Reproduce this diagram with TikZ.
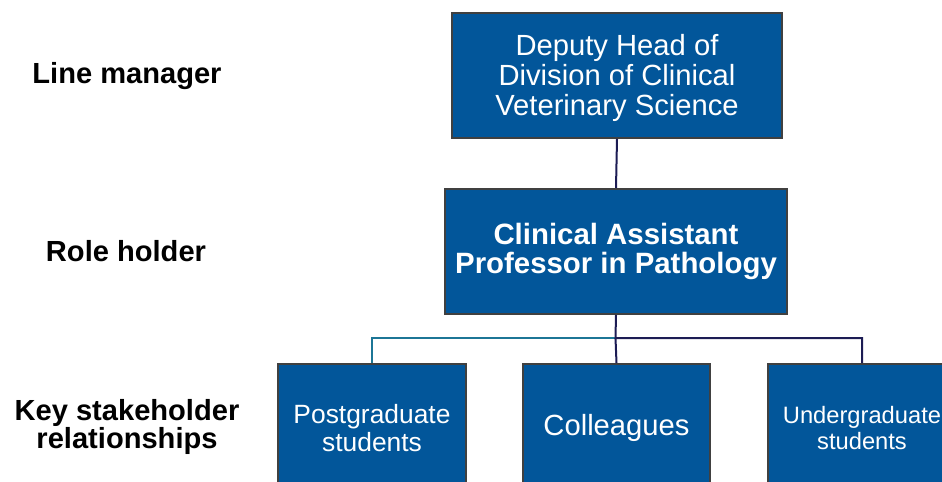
\documentclass[tikz,border=0pt]{standalone}
\usepackage{fontspec}
\setmainfont{Liberation Sans}
\definecolor{boxblue}{RGB}{2,86,154}
\definecolor{boxedge}{RGB}{64,64,64}
\definecolor{navyline}{RGB}{28,28,84}
\definecolor{tealline}{RGB}{28,118,150}
\begin{document}
\begin{tikzpicture}[x=1bp,y=-1bp,
  orgbox/.style={draw=boxedge,line width=2bp,fill=boxblue,text=white,
    align=center,inner sep=0pt,anchor=north west},
  boxtext/.style={text=white,align=center,inner sep=0pt},
  rowlabel/.style={align=center,font=\bfseries\fontsize{29.2}{28.5}\selectfont,inner sep=0pt},
  navylink/.style={draw=navyline,line width=2bp},
  teallink/.style={draw=tealline,line width=2bp}]
\useasboundingbox (0,0) rectangle (942,482);
\clip (0,0) rectangle (942,482);
% boxes
\node[orgbox,minimum width=330bp,minimum height=125bp] (top) at (451,12) {};
\node[boxtext,font=\fontsize{29.3}{30}\selectfont] (toptext) at ([yshift=-2.5bp]top.center)
  {Deputy Head of\\Division of Clinical\\Veterinary Science};
\node[orgbox,minimum width=342bp,minimum height=125bp,
  font=\bfseries\fontsize{29.5}{30}\selectfont] (mid) at (444,188)
  {Clinical Assistant\\Professor in Pathology};
\node[orgbox,minimum width=188bp,minimum height=128bp,
  font=\fontsize{26.5}{27.5}\selectfont] (b1) at (277,363)
  {Postgraduate\\students};
\node[orgbox,minimum width=187bp,minimum height=128bp,
  font=\fontsize{29.3}{30}\selectfont] (b2) at (522,363)
  {Colleagues};
\node[orgbox,minimum width=188bp,minimum height=128bp,
  font=\fontsize{23.8}{26}\selectfont] (b3) at (767,363)
  {Undergraduate\\students};
% row labels
\node[rowlabel] (l1) at (127,76) {Line manager};
\node[rowlabel] (l2) at (126,251) {Role holder};
\node[rowlabel] (l3) at (127,427) {Key stakeholder\\relationships};
% connectors
\coordinate (j) at (615.5,338);
\draw[navylink] (top.south) -- (mid.north);
\draw[teallink] (j) -| (b1.north);
\draw[navylink] (mid.south) -- (j) -| (b3.north);
\draw[navylink] (j) -- (b2.north);
\end{tikzpicture}
\end{document}
